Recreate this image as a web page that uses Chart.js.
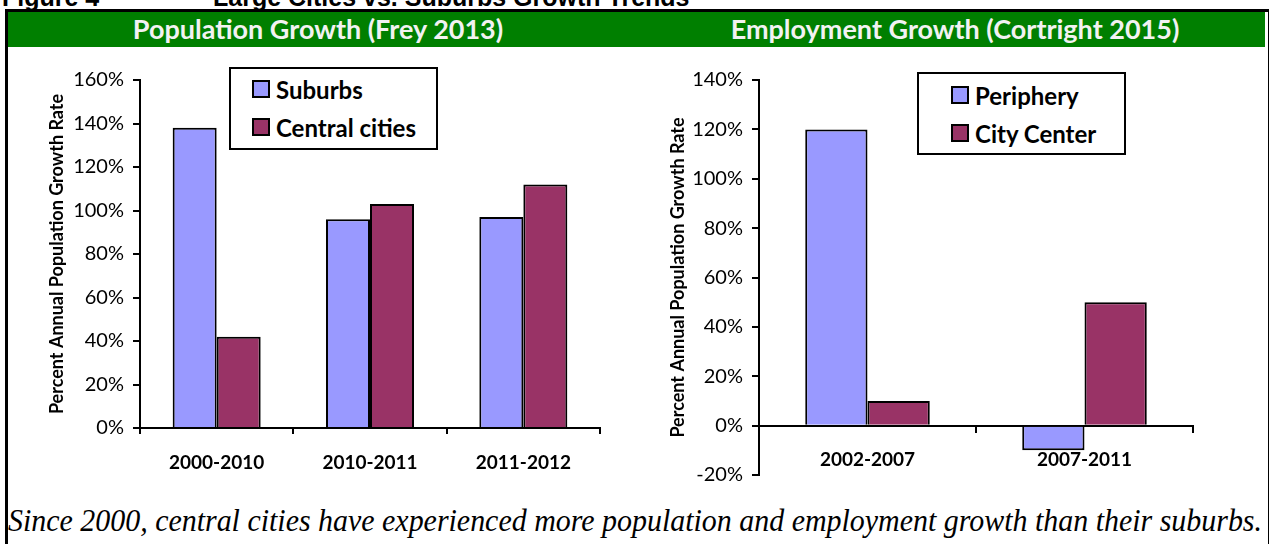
<!DOCTYPE html>
<html>
<head>
<meta charset="utf-8">
<script src="https://cdn.jsdelivr.net/npm/chart.js@4.4.1/dist/chart.umd.min.js"></script>
<style>
  html, body { margin: 0; padding: 0; background: #fff; }
  body { width: 1269px; height: 544px; position: relative; overflow: hidden; font-family: Lato, sans-serif; }
  .fig-title { position: absolute; top: -15px; left: 2px; font: bold 25px "Liberation Sans", Arial, sans-serif; white-space: nowrap; line-height: 25px; }
  .frame { position: absolute; left: 5px; top: 9px; width: 1260px; height: 560px; border: 3px solid #000; border-bottom: none; }
  .band { position: absolute; left: 8px; top: 12px; width: 1257px; height: 35px; background: #007f00; }
  .band-title { position: absolute; top: 12px; height: 35px; line-height: 35px; color: #f2f2f2; font: bold 27px Lato, sans-serif; text-align: center; white-space: nowrap; }
  .chart-box { position: absolute; top: 55px; }
  .legend { position: absolute; border: 2px solid #000; background: #fff; box-sizing: border-box; }
  .legend .item { position: absolute; display: flex; align-items: center; font: bold 24px Lato, sans-serif; white-space: nowrap; height: 28px; }
  .legend .sw { width: 14px; height: 14px; border: 2px solid #000; margin-right: 6px; }
  .caption { position: absolute; left: 8px; top: 503px; font: italic 31px "Liberation Serif", "Times New Roman", serif; white-space: nowrap; transform-origin: 0 0; line-height: 36px; }
</style>
</head>
<body>
<div class="fig-title"><span>Figure 4</span><span style="position:absolute;left:211px">Large Cities vs. Suburbs Growth Trends</span></div>
<div class="frame"></div>
<div class="band"></div>
<div class="band-title" style="left:8px;width:620px">Population Growth (Frey 2013)</div>
<div class="band-title" style="left:640px;width:630px">Employment Growth (Cortright 2015)</div>

<div class="chart-box" style="left:42px;width:578px;height:430px"><canvas id="popChart"></canvas></div>
<div class="chart-box" style="left:663px;width:577px;height:441px"><canvas id="empChart"></canvas></div>

<div class="legend" id="popLegend" style="left:229px;top:67px;width:209px;height:83px"></div>
<div class="legend" id="empLegend" style="left:917px;top:72px;width:209px;height:83px"></div>

<div class="caption" id="caption">Since 2000, central cities have experienced more population and employment growth than their suburbs.</div>

<script>
/* ---------- Data ---------- */
const popCategories = ['2000-2010', '2010-2011', '2011-2012'];
const popSuburbs = [138, 96, 97];
const popCentral = [42, 103, 112];
const popTicks = { min: 0, max: 160, step: 20 };

const empCategories = ['2002-2007', '2007-2011'];
const empPeriphery = [120, -10];
const empCityCenter = [10, 50];
const empTicks = { min: -20, max: 140, step: 20 };

const yTitle = 'Percent Annual Population Growth Rate';
const blue = '#9999ff';
const plum = '#993366';

Chart.defaults.font.family = 'Lato, sans-serif';
Chart.defaults.color = '#000';

/* ---------- Chart helper ---------- */
function makeChart(id, categories, series, ticks, opts) {
  return new Chart(document.getElementById(id), {
    type: 'bar',
    data: {
      labels: categories,
      datasets: series.map(s => ({
        label: s.label, data: s.data,
        backgroundColor: s.color, borderColor: '#000', borderWidth: 2,
        categoryPercentage: 0.574, barPercentage: 1
      }))
    },
    options: {
      responsive: true, maintainAspectRatio: false, animation: false,
      layout: { padding: opts.padding },
      plugins: { legend: { display: false }, tooltip: { enabled: false } },
      scales: {
        x: {
          position: opts.xPosition,
          z: 1,
          grid: { offset: true, drawOnChartArea: false, tickLength: 6, lineWidth: 2, color: '#000' },
          border: { color: '#000', width: 2 },
          ticks: { padding: 17, font: { size: 19, weight: 'bold' } },
          afterFit: s => { s.height = 52; }
        },
        y: {
          min: ticks.min, max: ticks.max,
          grid: { drawOnChartArea: false, tickLength: 7, lineWidth: 2, color: '#000' },
          border: { color: '#000', width: 2 },
          ticks: { stepSize: ticks.step, padding: 9, font: { size: 20 }, callback: v => v + '%' },
          title: { display: true, text: yTitle, font: { size: 18, weight: 'bold' } },
          afterFit: s => { s.width = opts.yWidth; }
        }
      }
    }
  });
}

function buildLegend(el, series, swLeft, rowTops) {
  series.forEach((s, i) => {
    const item = document.createElement('div');
    item.className = 'item';
    item.style.left = swLeft + 'px';
    item.style.top = rowTops[i] + 'px';
    item.innerHTML = `<span class="sw" style="background:${s.color}"></span>${s.label}`;
    el.appendChild(item);
  });
}

const popSeries = [
  { label: 'Suburbs', data: popSuburbs, color: blue },
  { label: 'Central cities', data: popCentral, color: plum }
];
const empSeries = [
  { label: 'Periphery', data: empPeriphery, color: blue },
  { label: 'City Center', data: empCityCenter, color: plum }
];

makeChart('popChart', popCategories, popSeries, popTicks,
  { padding: { top: 25, right: 20, bottom: 5, left: 0 }, yWidth: 98, xPosition: 'bottom' });
makeChart('empChart', empCategories, empSeries, empTicks,
  { padding: { top: 25, right: 47, bottom: 1, left: 0 }, yWidth: 96, xPosition: { y: 0 } });

buildLegend(document.getElementById('popLegend'), popSeries, 21, [6, 44]);
buildLegend(document.getElementById('empLegend'), empSeries, 32, [7, 45]);

/* stretch caption to the frame width */
const cap = document.getElementById('caption');
cap.style.transform = `scaleX(${1254 / cap.getBoundingClientRect().width})`;
</script>
</body>
</html>
